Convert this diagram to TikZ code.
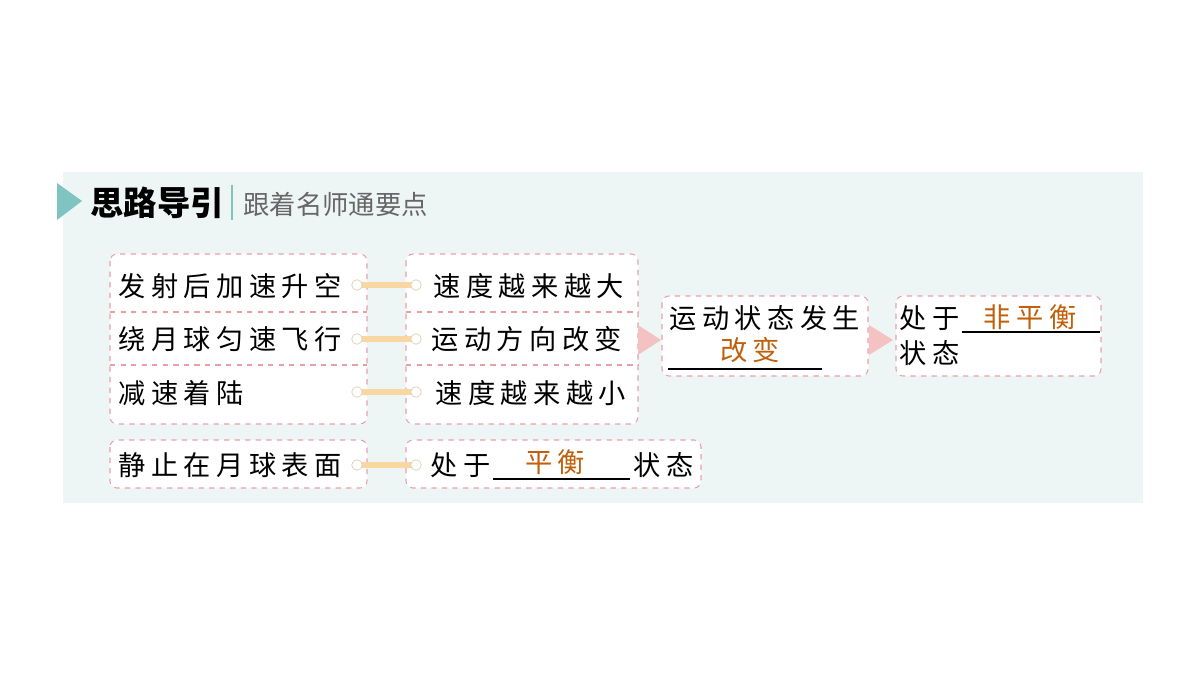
\documentclass[tikz,border=0pt]{standalone}
\usepackage{fontspec}
\usepackage{xcolor}
\setmainfont{Noto Sans CJK SC}
\newfontfamily\bodyfont[LetterSpace=20]{Noto Sans CJK SC}
\usetikzlibrary{positioning}
\definecolor{panel}{HTML}{EEF6F5}
\definecolor{teal}{HTML}{7FC4C0}
\definecolor{pinkline}{HTML}{E8A0A8}
\definecolor{pinkarrow}{HTML}{F5C2C4}
\definecolor{barcol}{HTML}{F8D8A0}
\definecolor{answer}{HTML}{C0600A}

\tikzset{
  box/.style={draw=pinkline, dashed, rounded corners=4pt, fill=white, line width=0.6pt},
  sep/.style={draw=pinkline, dashed, line width=0.6pt},
  txt/.style={anchor=west, inner sep=0pt, font=\bodyfont\fontsize{15.5pt}{17pt}\selectfont},
  ans/.style={inner sep=0pt, text=answer, font=\bodyfont\fontsize{15.5pt}{17pt}\selectfont},
  dot/.style={circle, draw=barcol!80!black!60, fill=white, inner sep=0pt, minimum size=6pt},
  bar/.style={barcol, line width=3.5pt},
  tri/.style={fill=pinkarrow, draw=none}
}

\begin{document}
\begin{tikzpicture}[x=0.02cm, y=-0.02cm]
\useasboundingbox (0,0) rectangle (1200,675);
\fill[panel] (63,172) rectangle (1143,503);

% title
\fill[teal] (57,183) -- (82,201) -- (57,220) -- cycle;
\node[anchor=west, inner sep=0pt, font=\fontsize{19pt}{21pt}\selectfont\bfseries] (title) at (90,203) {思路导引};
\draw[teal, line width=1pt] (232,185) -- (232,220);
\node[anchor=west, inner sep=0pt, text=black!60, font=\fontsize{15pt}{17pt}\selectfont] (sub) at (243,204) {跟着名师通要点};

% left column
\draw[box] (110,254) rectangle (367,424);
\draw[sep] (110,312) -- (367,312);
\draw[sep] (110,365) -- (367,365);
\node[txt] (l1) at (118,286) {发射后加速升空};
\node[txt] (l2) at (118,339) {绕月球匀速飞行};
\node[txt] (l3) at (118,393) {减速着陆};

% right column
\draw[box] (406,254) rectangle (638,424);
\draw[sep] (406,312) -- (638,312);
\draw[sep] (406,365) -- (638,365);
\node[txt] (r1) at (433,286) {速度越来越大};
\node[txt] (r2) at (431,339) {运动方向改变};
\node[txt] (r3) at (435,393) {速度越来越小};

% bottom row
\draw[box] (110,440) rectangle (367,488);
\draw[box] (406,440) rectangle (701,488);
\node[txt] (l4) at (118,465) {静止在月球表面};
\node[txt] (r4a) at (430,465) {处于};
\coordinate (u4a) at (493,479);
\coordinate (u4b) at (630,479);
\draw[line width=0.8pt] (u4a) -- (u4b);
\node[ans] (a4) at (555,462) {平衡};
\node[txt] (r4b) at (633,465) {状态};

% connectors
\foreach \y in {285,339,392,465}{
  \coordinate (s) at (357,\y);
  \coordinate (t) at (416,\y);
  \draw[bar] (s) -- (t);
  \node[dot] at (s) {};
  \node[dot] at (t) {};
}

% arrows
\fill[tri] (638,325) -- (661,340) -- (638,355) -- cycle;
\fill[tri] (869,325) -- (893,340) -- (869,355) -- cycle;

% state box
\draw[box] (662,296) rectangle (868,376);
\node[txt] (st) at (669,318) {运动状态发生};
\coordinate (u6a) at (668,369);
\coordinate (u6b) at (822,369);
\draw[line width=0.8pt] (u6a) -- (u6b);
\node[ans] (a6) at (750,350) {改变};

% result box
\draw[box] (896,296) rectangle (1101,376);
\node[txt] (rs1) at (899,318) {处于};
\coordinate (u7a) at (962,332);
\coordinate (u7b) at (1100,332);
\draw[line width=0.8pt] (u7a) -- (u7b);
\node[ans] (a7) at (1030,317) {非平衡};
\node[txt] (rs2) at (899,353) {状态};
\end{tikzpicture}
\end{document}
